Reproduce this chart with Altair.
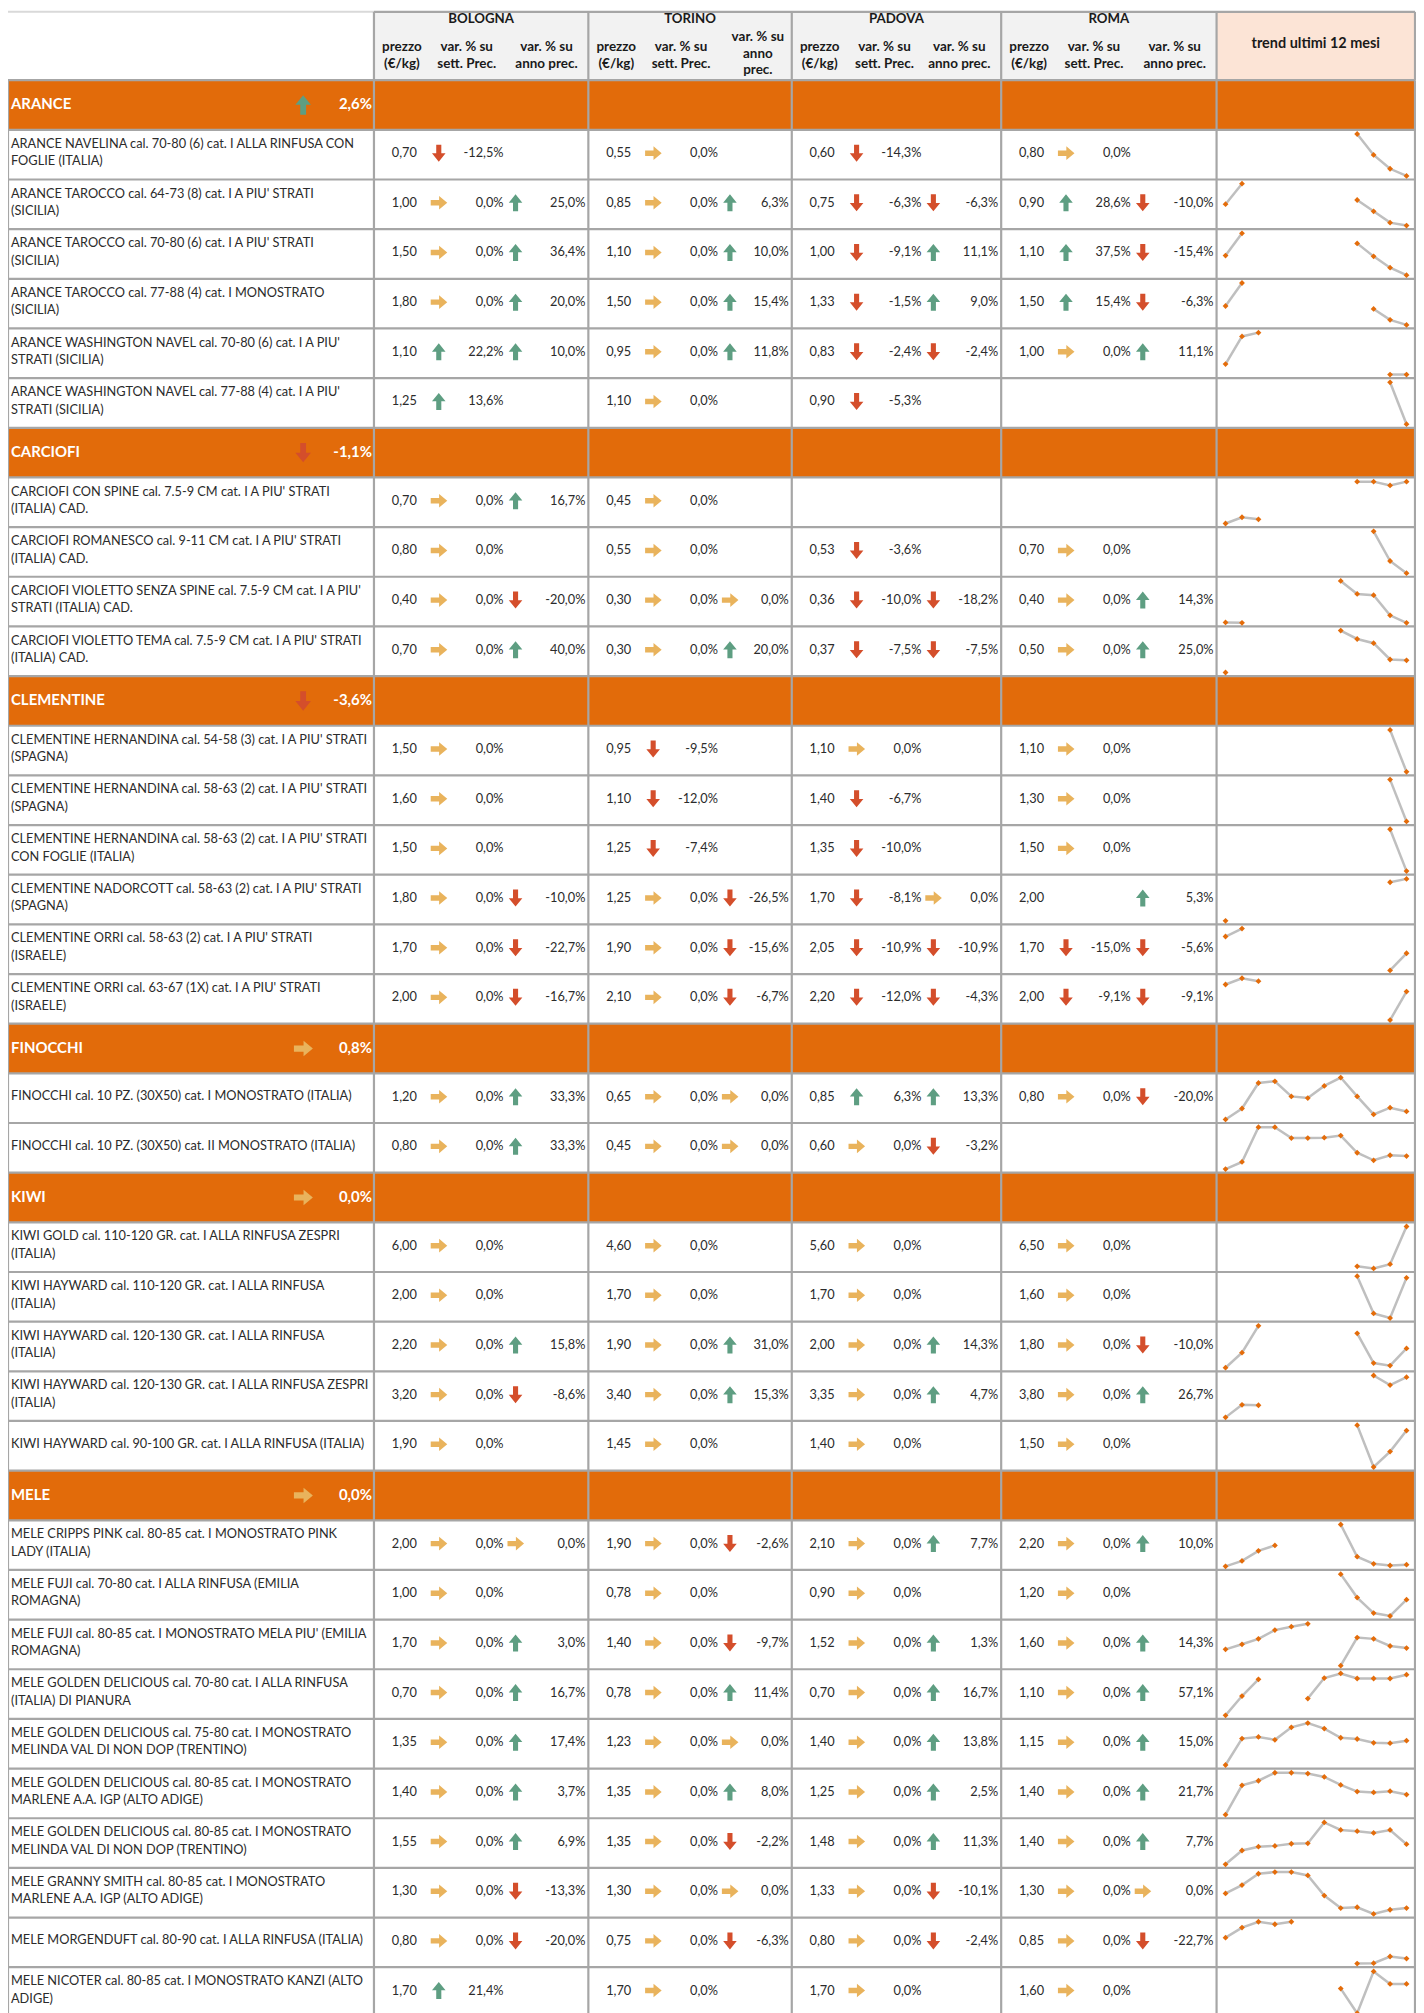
import altair as alt
import pandas as pd

N = None

# ---------------- data ----------------
categories = ["ARANCE", "CARCIOFI", "CLEMENTINE", "FINOCCHI", "KIWI", "MELE"]
category_change = [2.6, -1.1, -3.6, 0.8, 0.0, 0.0]

cities = ["BOLOGNA", "TORINO", "PADOVA", "ROMA"]

product_category = (["ARANCE"] * 6 + ["CARCIOFI"] * 4 + ["CLEMENTINE"] * 6 +
                    ["FINOCCHI"] * 2 + ["KIWI"] * 5 + ["MELE"] * 10)

product_name = [
    "ARANCE NAVELINA cal. 70-80 (6) cat. I ALLA RINFUSA CON\nFOGLIE (ITALIA)",
    "ARANCE TAROCCO cal. 64-73 (8) cat. I A PIU' STRATI\n(SICILIA)",
    "ARANCE TAROCCO cal. 70-80 (6) cat. I A PIU' STRATI\n(SICILIA)",
    "ARANCE TAROCCO cal. 77-88 (4) cat. I MONOSTRATO\n(SICILIA)",
    "ARANCE WASHINGTON NAVEL cal. 70-80 (6) cat. I A PIU'\nSTRATI (SICILIA)",
    "ARANCE WASHINGTON NAVEL cal. 77-88 (4) cat. I A PIU'\nSTRATI (SICILIA)",
    "CARCIOFI CON SPINE cal. 7.5-9 CM cat. I A PIU' STRATI\n(ITALIA) CAD.",
    "CARCIOFI ROMANESCO cal. 9-11 CM cat. I A PIU' STRATI\n(ITALIA) CAD.",
    "CARCIOFI VIOLETTO SENZA SPINE cal. 7.5-9 CM cat. I A PIU'\nSTRATI (ITALIA) CAD.",
    "CARCIOFI VIOLETTO TEMA cal. 7.5-9 CM cat. I A PIU' STRATI\n(ITALIA) CAD.",
    "CLEMENTINE HERNANDINA cal. 54-58 (3) cat. I A PIU' STRATI\n(SPAGNA)",
    "CLEMENTINE HERNANDINA cal. 58-63 (2) cat. I A PIU' STRATI\n(SPAGNA)",
    "CLEMENTINE HERNANDINA cal. 58-63 (2) cat. I A PIU' STRATI\nCON FOGLIE (ITALIA)",
    "CLEMENTINE NADORCOTT cal. 58-63 (2) cat. I A PIU' STRATI\n(SPAGNA)",
    "CLEMENTINE ORRI cal. 58-63 (2) cat. I A PIU' STRATI\n(ISRAELE)",
    "CLEMENTINE ORRI cal. 63-67 (1X) cat. I A PIU' STRATI\n(ISRAELE)",
    "FINOCCHI cal. 10 PZ. (30X50) cat. I MONOSTRATO (ITALIA)",
    "FINOCCHI cal. 10 PZ. (30X50) cat. II MONOSTRATO (ITALIA)",
    "KIWI GOLD cal. 110-120 GR. cat. I ALLA RINFUSA ZESPRI\n(ITALIA)",
    "KIWI HAYWARD cal. 110-120 GR. cat. I ALLA RINFUSA\n(ITALIA)",
    "KIWI HAYWARD cal. 120-130 GR. cat. I ALLA RINFUSA\n(ITALIA)",
    "KIWI HAYWARD cal. 120-130 GR. cat. I ALLA RINFUSA ZESPRI\n(ITALIA)",
    "KIWI HAYWARD cal. 90-100 GR. cat. I ALLA RINFUSA (ITALIA)",
    "MELE CRIPPS PINK cal. 80-85 cat. I MONOSTRATO PINK\nLADY (ITALIA)",
    "MELE FUJI cal. 70-80 cat. I ALLA RINFUSA (EMILIA\nROMAGNA)",
    "MELE FUJI cal. 80-85 cat. I MONOSTRATO MELA PIU' (EMILIA\nROMAGNA)",
    "MELE GOLDEN DELICIOUS cal. 70-80 cat. I ALLA RINFUSA\n(ITALIA) DI PIANURA",
    "MELE GOLDEN DELICIOUS cal. 75-80 cat. I MONOSTRATO\nMELINDA VAL DI NON DOP (TRENTINO)",
    "MELE GOLDEN DELICIOUS cal. 80-85 cat. I MONOSTRATO\nMARLENE A.A. IGP (ALTO ADIGE)",
    "MELE GOLDEN DELICIOUS cal. 80-85 cat. I MONOSTRATO\nMELINDA VAL DI NON DOP (TRENTINO)",
    "MELE GRANNY SMITH cal. 80-85 cat. I MONOSTRATO\nMARLENE A.A. IGP (ALTO ADIGE)",
    "MELE MORGENDUFT cal. 80-90 cat. I ALLA RINFUSA (ITALIA)",
    "MELE NICOTER cal. 80-85 cat. I MONOSTRATO KANZI (ALTO\nADIGE)",
]

bologna_price = [0.70, 1.00, 1.50, 1.80, 1.10, 1.25, 0.70, 0.80, 0.40, 0.70,
                 1.50, 1.60, 1.50, 1.80, 1.70, 2.00, 1.20, 0.80,
                 6.00, 2.00, 2.20, 3.20, 1.90,
                 2.00, 1.00, 1.70, 0.70, 1.35, 1.40, 1.55, 1.30, 0.80, 1.70]
bologna_sett = [-12.5, 0.0, 0.0, 0.0, 22.2, 13.6, 0.0, 0.0, 0.0, 0.0,
                0.0, 0.0, 0.0, 0.0, 0.0, 0.0, 0.0, 0.0,
                0.0, 0.0, 0.0, 0.0, 0.0,
                0.0, 0.0, 0.0, 0.0, 0.0, 0.0, 0.0, 0.0, 0.0, 21.4]
bologna_anno = [N, 25.0, 36.4, 20.0, 10.0, N, 16.7, N, -20.0, 40.0,
                N, N, N, -10.0, -22.7, -16.7, 33.3, 33.3,
                N, N, 15.8, -8.6, N,
                0.0, N, 3.0, 16.7, 17.4, 3.7, 6.9, -13.3, -20.0, N]

torino_price = [0.55, 0.85, 1.10, 1.50, 0.95, 1.10, 0.45, 0.55, 0.30, 0.30,
                0.95, 1.10, 1.25, 1.25, 1.90, 2.10, 0.65, 0.45,
                4.60, 1.70, 1.90, 3.40, 1.45,
                1.90, 0.78, 1.40, 0.78, 1.23, 1.35, 1.35, 1.30, 0.75, 1.70]
torino_sett = [0.0, 0.0, 0.0, 0.0, 0.0, 0.0, 0.0, 0.0, 0.0, 0.0,
               -9.5, -12.0, -7.4, 0.0, 0.0, 0.0, 0.0, 0.0,
               0.0, 0.0, 0.0, 0.0, 0.0,
               0.0, 0.0, 0.0, 0.0, 0.0, 0.0, 0.0, 0.0, 0.0, 0.0]
torino_anno = [N, 6.3, 10.0, 15.4, 11.8, N, N, N, 0.0, 20.0,
               N, N, N, -26.5, -15.6, -6.7, 0.0, 0.0,
               N, N, 31.0, 15.3, N,
               -2.6, N, -9.7, 11.4, 0.0, 8.0, -2.2, 0.0, -6.3, N]

padova_price = [0.60, 0.75, 1.00, 1.33, 0.83, 0.90, N, 0.53, 0.36, 0.37,
                1.10, 1.40, 1.35, 1.70, 2.05, 2.20, 0.85, 0.60,
                5.60, 1.70, 2.00, 3.35, 1.40,
                2.10, 0.90, 1.52, 0.70, 1.40, 1.25, 1.48, 1.33, 0.80, 1.70]
padova_sett = [-14.3, -6.3, -9.1, -1.5, -2.4, -5.3, N, -3.6, -10.0, -7.5,
               0.0, -6.7, -10.0, -8.1, -10.9, -12.0, 6.3, 0.0,
               0.0, 0.0, 0.0, 0.0, 0.0,
               0.0, 0.0, 0.0, 0.0, 0.0, 0.0, 0.0, 0.0, 0.0, 0.0]
padova_anno = [N, -6.3, 11.1, 9.0, -2.4, N, N, N, -18.2, -7.5,
               N, N, N, 0.0, -10.9, -4.3, 13.3, -3.2,
               N, N, 14.3, 4.7, N,
               7.7, N, 1.3, 16.7, 13.8, 2.5, 11.3, -10.1, -2.4, N]

roma_price = [0.80, 0.90, 1.10, 1.50, 1.00, N, N, 0.70, 0.40, 0.50,
              1.10, 1.30, 1.50, 2.00, 1.70, 2.00, 0.80, N,
              6.50, 1.60, 1.80, 3.80, 1.50,
              2.20, 1.20, 1.60, 1.10, 1.15, 1.40, 1.40, 1.30, 0.85, 1.60]
roma_sett = [0.0, 28.6, 37.5, 15.4, 0.0, N, N, 0.0, 0.0, 0.0,
             0.0, 0.0, 0.0, N, -15.0, -9.1, 0.0, N,
             0.0, 0.0, 0.0, 0.0, 0.0,
             0.0, 0.0, 0.0, 0.0, 0.0, 0.0, 0.0, 0.0, 0.0, 0.0]
roma_anno = [N, -10.0, -15.4, -6.3, 11.1, N, N, N, 14.3, 25.0,
             N, N, N, 5.3, -5.6, -9.1, -20.0, N,
             N, N, -10.0, 26.7, N,
             10.0, N, 14.3, 57.1, 15.0, 21.7, 7.7, 0.0, -22.7, N]

# trend of the last 12 months (relative level read from each sparkline)
trend = [
    [N, N, N, N, N, N, N, N, 100, 50, 17, 0],
    [51, 100, N, N, N, N, N, N, 61, 34, 7, 0],
    [47, 100, N, N, N, N, N, N, 76, 45, 18, 0],
    [45, 100, N, N, N, N, N, N, N, 38, 12, 0],
    [25, 91, 100, N, N, N, N, N, N, N, 0, 0],
    [N, N, N, N, N, N, N, N, N, N, 100, 0],
    [0, 15, 10, N, N, N, N, N, 100, 100, 91, 100],
    [N, N, N, N, N, N, N, N, N, 100, 29, 0],
    [1, 0, N, N, N, N, N, 100, 69, 66, 18, 0],
    [0, N, N, N, N, N, N, 100, 80, 70, 31, 29],
    [N, N, N, N, N, N, N, N, N, N, 100, 0],
    [N, N, N, N, N, N, N, N, N, N, 100, 0],
    [N, N, N, N, N, N, N, N, N, N, 100, 0],
    [0, N, N, N, N, N, N, N, N, N, 92, 100],
    [81, 100, N, N, N, N, N, N, N, N, 0, 41],
    [85, 100, 93, N, N, N, N, N, N, N, 0, 68],
    [0, 26, 87, 91, 55, 51, 80, 100, 55, 12, 28, 19],
    [0, 17, 100, 100, 74, 74, 75, 80, 39, 21, 33, 31],
    [N, N, N, N, N, N, N, N, 5, 0, 10, 100],
    [N, N, N, N, N, N, N, N, 100, 11, 0, 96],
    [0, 36, 100, N, N, N, N, N, 82, 11, 5, 46],
    [0, 30, 29, N, N, N, N, N, N, 100, 77, 96],
    [N, N, N, N, N, N, N, N, 100, 0, 37, 87],
    [0, 13, 37, 50, N, N, N, 100, 23, 6, 2, 4],
    [N, N, N, N, N, N, N, 100, 44, 7, 0, 39],
    [39, 51, 64, 85, 93, 100, N, 0, 67, 64, 47, 42],
    [0, 46, 86, N, N, 40, 89, 100, 88, 88, 88, 97],
    [0, 63, 67, 60, 90, 100, 87, 65, 62, 53, 52, 58],
    [0, 70, 81, 100, 100, 98, 90, 71, 55, 53, 56, 48],
    [0, 33, 42, 44, 49, 50, 100, 82, 79, 75, 82, 48],
    [49, 69, 96, 100, 100, 92, 44, 14, 16, 0, 10, 14],
    [62, 86, 100, 94, 100, N, N, N, 0, 1, 17, 12],
    [N, N, N, N, N, N, N, 59, 0, 100, 70, 70],
]

city_price = [bologna_price, torino_price, padova_price, roma_price]
city_sett = [bologna_sett, torino_sett, padova_sett, roma_sett]
city_anno = [bologna_anno, torino_anno, padova_anno, roma_anno]

# ---------------- layout (pixels) ----------------
W, H = 1412, 2025
COL = [0, 367, 582, 786, 996, 1212, 1411]
HEAD_TOP, HEAD_BOT, ROW_H = 1.0, 69.5, 49.8
SPARK_X0, SPARK_STEP = 1221.0, 16.5
LABEL_LH = 17.5
FONT = "Lato"
GRID = "#A6A6A6"
ORANGE = "#E26B0A"
TXT = "#2b2b2b"


def fmt_price(v):
    return f"{v:.2f}".replace(".", ",")


def fmt_pct(v):
    return f"{v:.1f}".replace(".", ",") + "%"


def direction(v):
    if v >= 1.0:
        return "up"
    if v <= -1.0:
        return "down"
    return "right"


band_rows, prod_rows, cell_text, arrows, spark = [], [], [], [], []
k = 0
for ci, cat in enumerate(categories):
    top = HEAD_BOT + k * ROW_H
    band_rows.append(dict(x=COL[0], x2=COL[-1], y=top, y2=top + ROW_H,
                          ym=top + ROW_H / 2 - 0.5, label=cat,
                          val=fmt_pct(category_change[ci])))
    arrows.append(dict(x=296, y=top + ROW_H / 2, dir=direction(category_change[ci]), sz=380))
    k += 1
    for i, pc in enumerate(product_category):
        if pc != cat:
            continue
        top = HEAD_BOT + k * ROW_H
        ym = top + ROW_H / 2
        nl = product_name[i].count("\n") + 1
        prod_rows.append(dict(x=3, y=ym - 2 - (nl - 1) * LABEL_LH / 2, label=product_name[i]))
        for j in range(4):
            S, E = COL[1 + j], COL[2 + j]
            p, s, a = city_price[j][i], city_sett[j][i], city_anno[j][i]
            yv = ym - 1.5
            if p is not None:
                cell_text.append(dict(x=S + 43, y=yv, t=fmt_price(p)))
            if s is not None:
                arrows.append(dict(x=S + 65, y=yv, dir=direction(s), sz=290))
                cell_text.append(dict(x=S + 130, y=yv, t=fmt_pct(s)))
            if a is not None:
                arrows.append(dict(x=S + 142, y=yv, dir=direction(a), sz=290))
                cell_text.append(dict(x=E - 3, y=yv, t=fmt_pct(a)))
        seg = 0
        prev = None
        for m, v in enumerate(trend[i]):
            if v is None:
                if prev is not None:
                    seg += 1
                prev = None
                continue
            spark.append(dict(row=i, top=top, m=m, v=v, seg=f"{i}-{seg}"))
            prev = v
        k += 1
n_units = k
table_bottom = HEAD_BOT + n_units * ROW_H

band_df = pd.DataFrame(band_rows)
prod_df = pd.DataFrame(prod_rows)
cell_df = pd.DataFrame(cell_text)
arrow_df = pd.DataFrame(arrows)
spark_df = pd.DataFrame(spark)

hlines = [dict(x=COL[0], x2=COL[-1], y=HEAD_BOT + u * ROW_H) for u in range(n_units + 1)]
hlines.append(dict(x=COL[1], x2=COL[-1], y=HEAD_TOP))
hline_df = pd.DataFrame(hlines)
vlines = [dict(x=c, y=HEAD_BOT, y2=table_bottom) for c in COL]
vlines += [dict(x=c, y=HEAD_TOP, y2=HEAD_BOT) for c in COL[1:]]
vline_df = pd.DataFrame(vlines)

head_rect_df = pd.DataFrame([
    dict(x=COL[1], x2=COL[5], y=HEAD_TOP, y2=HEAD_BOT, f="#F2F2F2"),
    dict(x=COL[5], x2=COL[6], y=HEAD_TOP, y2=HEAD_BOT, f="#FCE4D6"),
])

city_head = []
sub_head = []
for j, c in enumerate(cities):
    S, E = COL[1 + j], COL[2 + j]
    city_head.append(dict(x=(S + E) / 2, y=8.5, t=c))
    sub_head.append(dict(x=S + 28, y=36.5, t="prezzo\n(€/kg)"))
    sub_head.append(dict(x=S + 93, y=36.5, t="var. % su\nsett. Prec."))
    if c == "TORINO":
        sub_head.append(dict(x=E - 34, y=26.5, t="var. % su\nanno\nprec."))
    else:
        sub_head.append(dict(x=E - 42, y=36.5, t="var. % su\nanno prec."))
city_head_df = pd.DataFrame(city_head)
sub_head_df = pd.DataFrame(sub_head)
trend_head_df = pd.DataFrame([dict(x=(COL[5] + COL[6]) / 2, y=33, t="trend ultimi 12 mesi")])

# ---------------- chart ----------------
xs = alt.Scale(domain=[0, W], nice=False, zero=False)
ys = alt.Scale(domain=[0, H], nice=False, zero=False, reverse=True)


def X(f):
    return alt.X(f, type="quantitative", scale=xs, axis=None)


def Y(f):
    return alt.Y(f, type="quantitative", scale=ys, axis=None)


head_rects = alt.Chart(head_rect_df).mark_rect().encode(
    x=X("x"), x2="x2", y=Y("y"), y2="y2",
    color=alt.Color("f:N", scale=None, legend=None))

band_rects = alt.Chart(band_df).mark_rect(color=ORANGE).encode(
    x=X("x"), x2="x2", y=Y("y"), y2="y2")

top_light = alt.Chart(pd.DataFrame([dict(x=COL[0], x2=COL[1], y=HEAD_TOP)])).mark_rule(
    color="#D9D9D9", strokeWidth=2).encode(x=X("x"), x2="x2", y=Y("y"))

hrules = alt.Chart(hline_df).mark_rule(color=GRID, strokeWidth=2.2).encode(
    x=X("x"), x2="x2", y=Y("y"))
vrules = alt.Chart(vline_df).mark_rule(color=GRID, strokeWidth=2.2).encode(
    x=X("x"), y=Y("y"), y2="y2")

band_label = alt.Chart(band_df).mark_text(
    align="left", baseline="middle", font=FONT, fontSize=15, fontWeight="bold",
    color="white").encode(x=alt.X("xl:Q", scale=xs, axis=None), y=Y("ym"), text="label:N"
                          ).transform_calculate(xl="3")
band_val = alt.Chart(band_df).mark_text(
    align="right", baseline="middle", font=FONT, fontSize=15, fontWeight="bold",
    color="white").encode(x=alt.X("xr:Q", scale=xs, axis=None), y=Y("ym"), text="val:N"
                          ).transform_calculate(xr="365")

prod_text = alt.Chart(prod_df).mark_text(
    align="left", baseline="middle", font=FONT, fontSize=12.8, color=TXT,
    lineBreak="\n", lineHeight=LABEL_LH).encode(x=X("x"), y=Y("y"), text="label:N")

cells = alt.Chart(cell_df).mark_text(
    align="right", baseline="middle", font=FONT, fontSize=12.8, color=TXT).encode(
    x=X("x"), y=Y("y"), text="t:N")

UP = "M0,-1L0.8,-0.02L0.3,-0.02L0.3,1L-0.3,1L-0.3,-0.02L-0.8,-0.02Z"
DOWN = "M0,1L0.8,0.02L0.3,0.02L0.3,-1L-0.3,-1L-0.3,0.02L-0.8,0.02Z"
RIGHT = "M1,0L0.04,-0.8L0.04,-0.32L-0.95,-0.32L-0.95,0.32L0.04,0.32L0.04,0.8Z"

arrow_layer = alt.Chart(arrow_df).mark_point(filled=True, opacity=1).encode(
    x=X("x"), y=Y("y"),
    size=alt.Size("sz:Q", scale=None, legend=None),
    shape=alt.Shape("dir:N", scale=alt.Scale(domain=["up", "down", "right"],
                                             range=[UP, DOWN, RIGHT]), legend=None),
    color=alt.Color("dir:N", scale=alt.Scale(domain=["up", "down", "right"],
                                             range=["#5E9E82", "#D44E2B", "#E9B35C"]),
                    legend=None))

city_text = alt.Chart(city_head_df).mark_text(
    align="center", baseline="middle", font=FONT, fontSize=13.3, fontWeight="bold",
    color="#1a1a1a").encode(x=X("x"), y=Y("y"), text="t:N")
sub_text = alt.Chart(sub_head_df).mark_text(
    align="center", baseline="middle", font=FONT, fontSize=13.5, fontWeight="bold",
    color="#1a1a1a", lineBreak="\n", lineHeight=16.5).encode(x=X("x"), y=Y("y"), text="t:N")
trend_text = alt.Chart(trend_head_df).mark_text(
    align="center", baseline="middle", font=FONT, fontSize=14.5, fontWeight="bold",
    color="#1a1a1a").encode(x=X("x"), y=Y("y"), text="t:N")

spark_base = alt.Chart(spark_df).transform_joinaggregate(
    vmin="min(v)", vmax="max(v)", groupby=["row"]
).transform_calculate(
    sx=f"{SPARK_X0} + datum.m * {SPARK_STEP}",
    sy=f"datum.top + 4.2 + (1 - (datum.v - datum.vmin) / (datum.vmax - datum.vmin)) * {ROW_H - 7.8}",
)
spark_line = spark_base.mark_line(color="#BFBFBF", strokeWidth=2.5).encode(
    x=alt.X("sx:Q", scale=xs, axis=None), y=alt.Y("sy:Q", scale=ys, axis=None),
    detail="seg:N", order="m:Q")
spark_pts = spark_base.mark_point(shape="diamond", filled=True, opacity=1,
                                  color="#E46C0A", size=34).encode(
    x=alt.X("sx:Q", scale=xs, axis=None), y=alt.Y("sy:Q", scale=ys, axis=None))

chart = alt.layer(
    head_rects, band_rects, top_light, hrules, vrules,
    band_label, band_val, prod_text, cells, arrow_layer,
    city_text, sub_text, trend_text, spark_line, spark_pts,
).properties(
    width=W, height=H, padding=0,
    autosize=alt.AutoSizeParams(type="none"),
).configure_view(stroke=None)

chart.save("out.html", embed_options={"renderer": "svg", "actions": False})
